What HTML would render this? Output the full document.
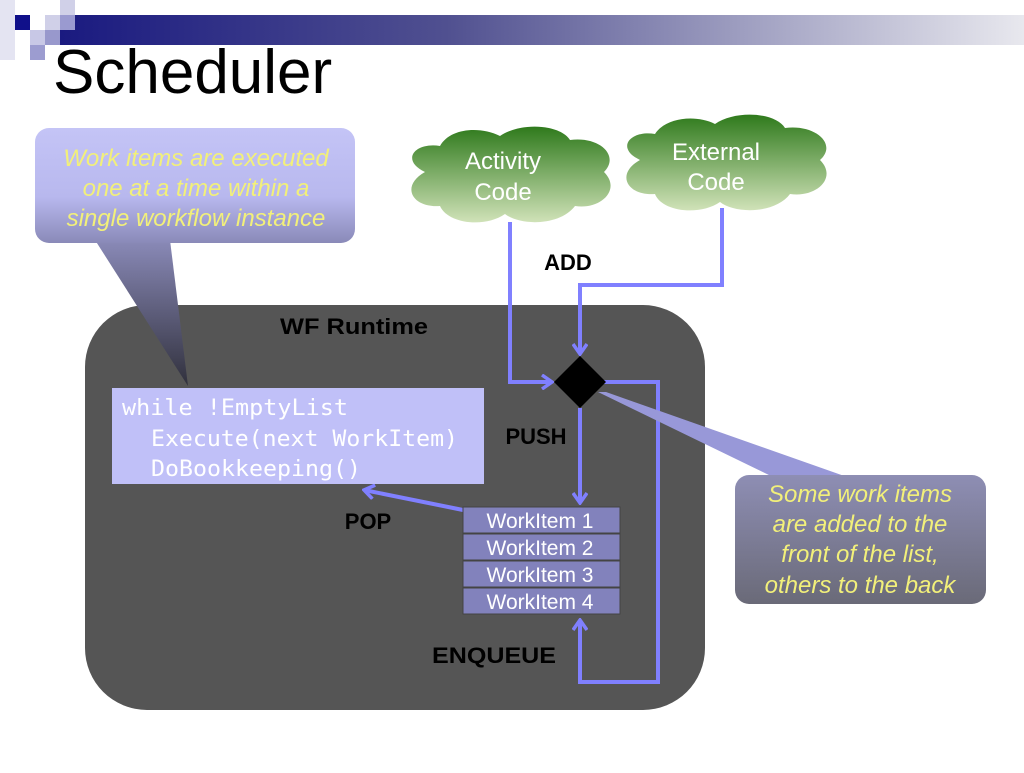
<!DOCTYPE html>
<html><head><meta charset="utf-8"><style>
body{margin:0;width:1024px;height:768px;background:#fff;overflow:hidden;font-family:"Liberation Sans",sans-serif}
</style></head><body>
<svg width="1024" height="768" viewBox="0 0 1024 768" xmlns="http://www.w3.org/2000/svg">
<defs>
<linearGradient id="bar" x1="0" x2="1"><stop offset="0" stop-color="#1a1a80"/><stop offset="0.4" stop-color="#505090"/><stop offset="1" stop-color="#e8e8ee"/></linearGradient>
<linearGradient id="c1" x1="0" y1="0" x2="0" y2="1"><stop offset="0" stop-color="#c4c4f6"/><stop offset="0.6" stop-color="#b8b8ee"/><stop offset="1" stop-color="#8a8ab8"/></linearGradient>
<linearGradient id="c2" x1="0" y1="0" x2="0" y2="1"><stop offset="0" stop-color="#8e8eb4"/><stop offset="1" stop-color="#6a6a78"/></linearGradient>
<linearGradient id="cl" x1="0" y1="0" x2="0" y2="1"><stop offset="0" stop-color="#2f7a1c"/><stop offset="1" stop-color="#d0e2b8"/></linearGradient>
<linearGradient id="tail1" x1="0" y1="0" x2="0" y2="1"><stop offset="0" stop-color="#8a8ab8"/><stop offset="1" stop-color="#30303c"/></linearGradient>
<marker id="ah" viewBox="0 0 14 16" markerWidth="14" markerHeight="16" refX="12" refY="8" orient="auto" markerUnits="userSpaceOnUse"><path d="M2,1 L12,8 L2,15" fill="none" stroke="#8080ff" stroke-width="3.5"/></marker>
</defs>
<!-- header -->
<rect x="0" y="0" width="15" height="60" fill="#e4e4f2"/>
<rect x="15" y="15" width="15" height="15" fill="#10108a"/>
<rect x="45" y="15" width="15" height="15" fill="#d0d0e8"/>
<rect x="60" y="0" width="15" height="15" fill="#d0d0e8"/>
<rect x="30" y="30" width="15" height="15" fill="#c8c8e6"/>
<rect x="45" y="30" width="15" height="15" fill="#9898cc"/>
<rect x="30" y="45" width="15" height="15" fill="#9c9cd0"/>
<rect x="60" y="15" width="964" height="30" fill="url(#bar)"/>
<rect x="60" y="15" width="15" height="15" fill="#9a9ad0"/>
<text x="53" y="93" font-size="62" fill="#000">Scheduler</text>

<!-- runtime box -->
<rect x="85" y="305" width="620" height="405" rx="62" fill="#555555"/>
<text x="354" y="334" font-size="22" font-weight="bold" text-anchor="middle" fill="#000" textLength="148" lengthAdjust="spacingAndGlyphs">WF Runtime</text>

<!-- callout 1 -->
<polygon points="95,240 170,240 188,386" fill="url(#tail1)"/>
<rect x="35" y="128" width="320" height="115" rx="14" fill="url(#c1)"/>
<g font-size="24" font-style="italic" fill="#f2f07a" text-anchor="middle">
<text x="196" y="166">Work items are executed</text>
<text x="196" y="196">one at a time within a</text>
<text x="196" y="226">single workflow instance</text>
</g>

<!-- clouds -->
<path d="M425,172 C400,160 415,142 440,146 C450,128 480,126 500,136 C520,122 560,124 570,140 C600,136 620,156 604,172 C622,190 600,210 575,206 C560,226 520,226 505,214 C485,228 448,224 440,206 C412,208 400,186 425,172 Z" fill="url(#cl)"/>
<text x="503" y="169" font-size="24" fill="#fff" text-anchor="middle">Activity</text>
<text x="503" y="200" font-size="24" fill="#fff" text-anchor="middle">Code</text>
<path d="M640,160 C615,148 630,130 655,134 C665,118 695,114 715,124 C735,110 775,112 785,128 C815,124 838,144 820,160 C838,178 816,198 790,194 C775,214 735,214 720,202 C700,216 662,212 655,194 C627,196 615,174 640,160 Z" fill="url(#cl)"/>
<text x="716" y="160" font-size="24" fill="#fff" text-anchor="middle">External</text>
<text x="716" y="190" font-size="24" fill="#fff" text-anchor="middle">Code</text>

<text x="568" y="270" font-size="22" font-weight="bold" text-anchor="middle" fill="#000">ADD</text>

<!-- connectors -->
<g fill="none" stroke="#8080ff" stroke-width="4">
<polyline points="510,222 510,382 552,382" marker-end="url(#ah)"/>
<polyline points="722,208 722,285 580,285 580,354" marker-end="url(#ah)"/>
<polyline points="580,408 580,503" marker-end="url(#ah)"/>
<polyline points="604,382 658,382 658,682 580,682 580,620" marker-end="url(#ah)"/>
<polyline points="463,510 364,490" marker-end="url(#ah)"/>
</g>
<!-- callout 2 tail -->
<polygon points="598,392 606,392 850,478 775,478" fill="#9898d8"/>
<!-- diamond -->
<polygon points="580,356 606,382 580,408 554,382" fill="#000"/>

<text x="536" y="444" font-size="22" font-weight="bold" text-anchor="middle" fill="#000">PUSH</text>
<text x="368" y="529" font-size="22" font-weight="bold" text-anchor="middle" fill="#000">POP</text>
<text x="494" y="663" font-size="22" font-weight="bold" text-anchor="middle" fill="#000" textLength="124" lengthAdjust="spacingAndGlyphs">ENQUEUE</text>

<!-- code box -->
<rect x="112" y="388" width="372" height="96" fill="#c0c0f8"/>
<g font-family="'DejaVu Sans Mono','Liberation Mono',monospace" font-size="22" fill="#fff">
<text x="122" y="415" textLength="226" lengthAdjust="spacingAndGlyphs">while !EmptyList</text>
<text x="151" y="446" textLength="307" lengthAdjust="spacingAndGlyphs">Execute(next WorkItem)</text>
<text x="151" y="476" textLength="210" lengthAdjust="spacingAndGlyphs">DoBookkeeping()</text>
</g>

<!-- work items -->
<g fill="#8282bc" stroke="#444" stroke-width="1">
<rect x="463" y="507" width="157" height="26"/>
<rect x="463" y="534" width="157" height="26"/>
<rect x="463" y="561" width="157" height="26"/>
<rect x="463" y="588" width="157" height="26"/>
</g>
<g font-size="21" fill="#fff" text-anchor="middle">
<text x="540" y="528">WorkItem 1</text>
<text x="540" y="555">WorkItem 2</text>
<text x="540" y="582">WorkItem 3</text>
<text x="540" y="609">WorkItem 4</text>
</g>

<!-- callout 2 -->
<rect x="735" y="475" width="251" height="129" rx="14" fill="url(#c2)"/>
<g font-size="24" font-style="italic" fill="#f2f07a" text-anchor="middle">
<text x="860" y="502">Some work items</text>
<text x="860" y="532">are added to the</text>
<text x="860" y="562">front of the list,</text>
<text x="860" y="593">others to the back</text>
</g>
</svg>
</body></html>
